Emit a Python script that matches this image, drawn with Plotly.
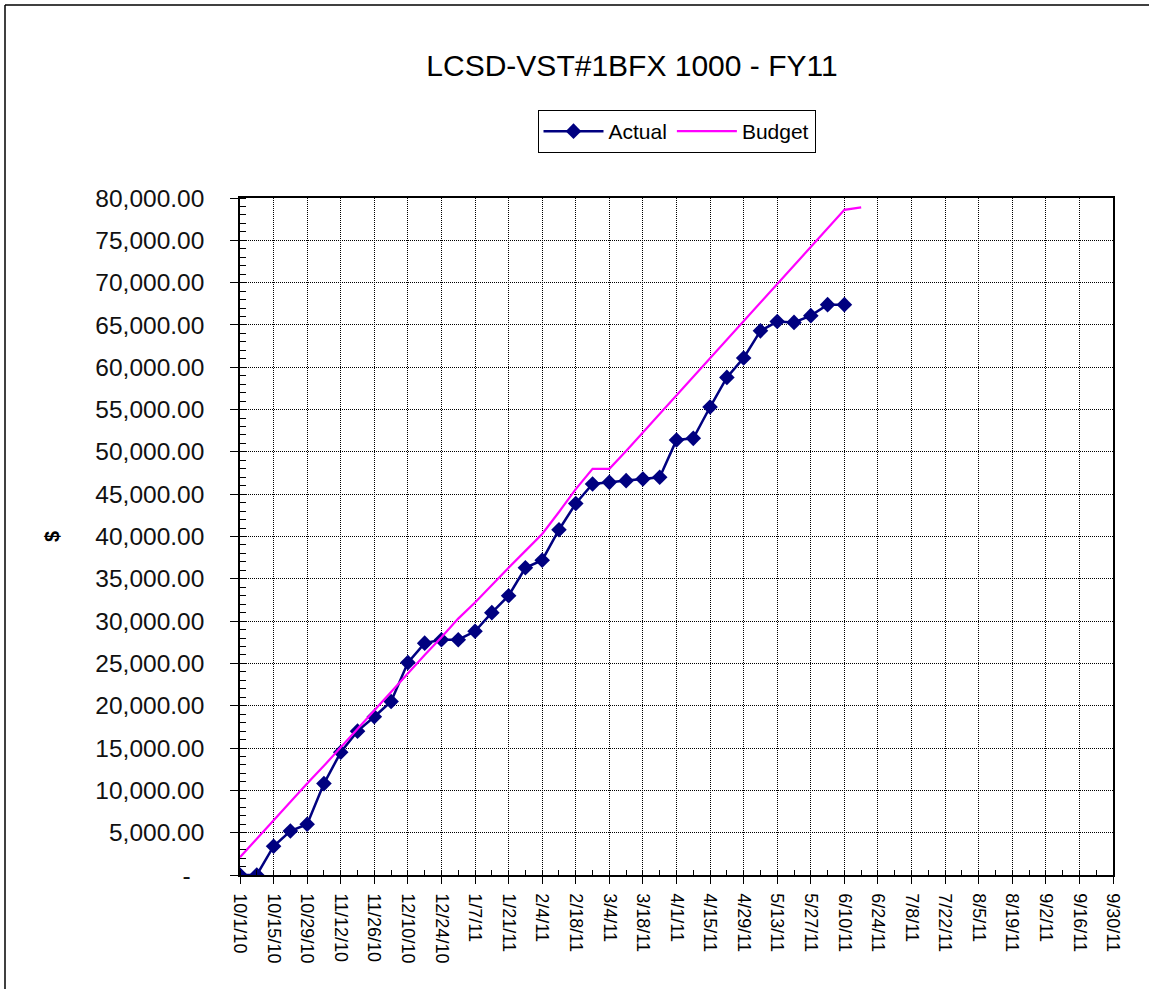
import plotly.graph_objects as go

# ---- data ----
actual_dates = [
    "2010-10-01", "2010-10-08", "2010-10-15", "2010-10-22", "2010-10-29",
    "2010-11-05", "2010-11-12", "2010-11-19", "2010-11-26",
    "2010-12-03", "2010-12-10", "2010-12-17", "2010-12-24", "2010-12-31",
    "2011-01-07", "2011-01-14", "2011-01-21", "2011-01-28",
    "2011-02-04", "2011-02-11", "2011-02-18", "2011-02-25",
    "2011-03-04", "2011-03-11", "2011-03-18", "2011-03-25",
    "2011-04-01", "2011-04-08", "2011-04-15", "2011-04-22", "2011-04-29",
    "2011-05-06", "2011-05-13", "2011-05-20", "2011-05-27",
    "2011-06-03", "2011-06-10",
]
actual_values = [
    0, 0, 3400, 5200, 6000,
    10800, 14500, 17000, 18700,
    20500, 25100, 27400, 27800, 27800,
    28800, 31000, 33000, 36300,
    37200, 40800, 43900, 46200,
    46400, 46600, 46800, 47000,
    51400, 51600, 55300, 58800, 61100,
    64300, 65400, 65300, 66100,
    67400, 67400,
]

budget_dates = actual_dates + ["2011-06-17"]
budget_values = [
    2100, 4300, 6400, 8600, 10800,
    12900, 15100, 17300, 19500,
    21700, 23900, 26000, 28100, 30300,
    32200, 34300, 36300, 38300,
    40300, 42900, 45600, 48000,
    48000, 50100, 52300, 54500,
    56700, 58900, 61100, 63300, 65500,
    67700, 69900, 72100, 74300,
    76400, 78600, 78900,
]

y_tick_vals = [0, 5000, 10000, 15000, 20000, 25000, 30000, 35000, 40000,
               45000, 50000, 55000, 60000, 65000, 70000, 75000, 80000]
y_tick_text = ["-\u00a0\u00a0", "5,000.00", "10,000.00", "15,000.00", "20,000.00",
               "25,000.00", "30,000.00", "35,000.00", "40,000.00", "45,000.00",
               "50,000.00", "55,000.00", "60,000.00", "65,000.00", "70,000.00",
               "75,000.00", "80,000.00"]

x_start = "2010-10-01"
x_end = "2011-09-30"
DAY_MS = 86400000

FONT = "Liberation Sans, Arial, sans-serif"

fig = go.Figure()
fig.add_trace(go.Scatter(
    x=actual_dates, y=actual_values, name="Actual",
    mode="lines+markers",
    line=dict(color="#000080", width=2.5),
    marker=dict(symbol="diamond", size=12, color="#000080"),
))
fig.add_trace(go.Scatter(
    x=budget_dates, y=budget_values, name="Budget",
    mode="lines",
    line=dict(color="#FF00FF", width=2.2),
))

W, H = 1151, 991
L, R, T, B = 240, 38, 198, 116

fig.update_layout(
    width=W, height=H,
    margin=dict(l=L, r=R, t=T, b=B, autoexpand=False),
    paper_bgcolor="white", plot_bgcolor="white",
    font=dict(family=FONT, color="black"),
    title=dict(text="LCSD-VST#1BFX 1000 - FY11", x=632 / W, xanchor="center",
               y=1 - 65 / H, yanchor="middle",
               font=dict(size=30, family=FONT, color="black")),
    showlegend=True,
    legend=dict(orientation="h", x=0.5, xanchor="center",
                y=(H - B - 110) / (H - T - B), yanchor="top",
                bordercolor="black", borderwidth=1, bgcolor="white",
                font=dict(size=21, family=FONT, color="black"),
                itemwidth=60),
)

fig.update_xaxes(
    type="date", range=[x_start, x_end],
    tick0=x_start, dtick=14 * DAY_MS, tickformat="%-m/%-d/%y",
    tickangle=90, tickfont=dict(size=18, family=FONT, color="black"),
    ticks="outside", ticklen=7, tickcolor="black", tickwidth=1,
    ticklabelstandoff=6,
    minor=dict(dtick=7 * DAY_MS, tick0=x_start, ticks="inside", ticklen=5,
               tickcolor="black", showgrid=False),
    showgrid=True, gridcolor="black", gridwidth=1, griddash="1px,1px",
    showline=True, linecolor="black", linewidth=1.5, mirror=True,
    zeroline=False,
)
fig.update_yaxes(
    range=[0, 80000], tickvals=y_tick_vals, ticktext=y_tick_text,
    tickfont=dict(size=24.5, family=FONT, color="#111111"),
    ticks="outside", ticklen=8, tickcolor="black", tickwidth=1,
    ticklabelstandoff=21,
    minor=dict(dtick=1000, ticks="inside", ticklen=6, tickcolor="black",
               showgrid=False),
    showgrid=True, gridcolor="black", gridwidth=1, griddash="1px,1px",
    showline=True, linecolor="black", linewidth=1.5, mirror=True,
    zeroline=False,
    title=dict(text="<b>$</b>", font=dict(size=20, family=FONT, color="black"),
               standoff=30),
)

# outer chart-area frame (only top and left edges visible in the crop)
px_x = lambda p: (p - L) / (W - L - R)
px_y = lambda p: (H - B - p) / (H - T - B)
fig.add_shape(type="line", xref="paper", yref="paper",
              x0=px_x(5), x1=px_x(W - 2), y0=px_y(5), y1=px_y(5),
              line=dict(color="black", width=1.5))
fig.add_shape(type="line", xref="paper", yref="paper",
              x0=px_x(5), x1=px_x(5), y0=px_y(5), y1=px_y(H - 2),
              line=dict(color="black", width=1.5))

fig.write_html(
    "out.html",
    config={"displayModeBar": False},
    post_script="document.body.style.margin='0';document.body.style.overflow='hidden';",
)
